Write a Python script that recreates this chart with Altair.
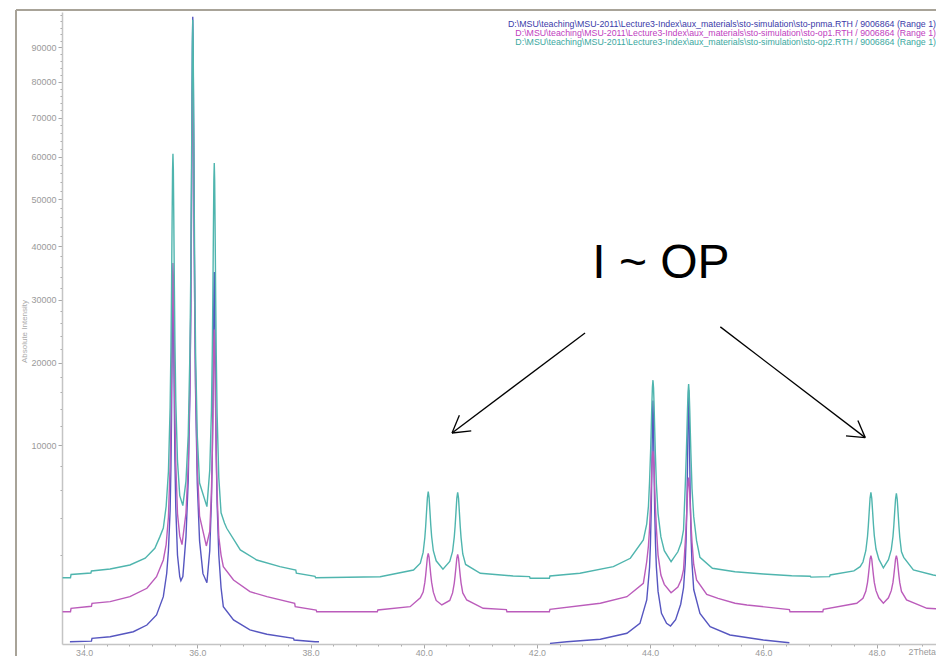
import altair as alt
import pandas as pd

# ---- data (2Theta in degrees, absolute intensity) ----
op2_tt = [33.62, 33.76, 33.77, 34.12, 34.13, 34.46, 34.81, 35.08, 35.25, 35.34, 35.40, 35.45,
          35.49, 35.52, 35.535, 35.545, 35.555, 35.563, 35.57, 35.577, 35.585, 35.595, 35.605, 35.62,
          35.65, 35.69, 35.745, 35.80, 35.84, 35.87, 35.885, 35.895, 35.905, 35.913, 35.92, 35.927,
          35.935, 35.945, 35.955, 35.97, 36.00, 36.04, 36.17, 36.22, 36.25, 36.265, 36.275, 36.285,
          36.293, 36.30, 36.307, 36.315, 36.325, 36.335, 36.35, 36.38, 36.42, 36.48, 36.52, 36.76,
          37.05, 37.46, 37.74, 37.75, 38.08, 38.09, 39.23, 39.82, 39.94, 39.99, 40.02, 40.035,
          40.05, 40.065, 40.08, 40.095, 40.11, 40.125, 40.14, 40.17, 40.22, 40.34, 40.46, 40.51,
          40.54, 40.555, 40.57, 40.585, 40.60, 40.615, 40.63, 40.645, 40.66, 40.69, 40.74, 41.00,
          41.58, 41.87, 41.88, 42.22, 42.23, 42.76, 43.35, 43.65, 43.88, 43.94, 43.97, 43.99,
          44.01, 44.02, 44.03, 44.04, 44.05, 44.06, 44.07, 44.08, 44.09, 44.11, 44.14, 44.19,
          44.25, 44.37, 44.49, 44.55, 44.59, 44.62, 44.64, 44.65, 44.66, 44.67, 44.68, 44.69,
          44.70, 44.71, 44.72, 44.74, 44.77, 44.82, 44.88, 45.10, 45.50, 46.00, 46.50, 46.83,
          46.84, 47.17, 47.18, 47.60, 47.71, 47.76, 47.81, 47.84, 47.855, 47.87, 47.885, 47.90,
          47.915, 47.93, 47.945, 47.96, 47.99, 48.04, 48.12, 48.21, 48.26, 48.29, 48.305, 48.32,
          48.335, 48.35, 48.365, 48.38, 48.395, 48.41, 48.44, 48.48, 48.65, 49.00, 49.19]
op2_I = [1112, 1112, 1222, 1275, 1348, 1423, 1579, 1859, 2318, 2915, 3400, 4800,
         7500, 14160, 22300, 31650, 45350, 56700, 60800, 57000, 45800, 32300, 23000, 15000,
         8500, 5570, 4840, 6710, 11040, 21600, 34900, 50300, 72900, 91600, 98500, 91500,
         72800, 50200, 34800, 21400, 10930, 6550, 4770, 7640, 13750, 21540, 30500, 43660,
         54580, 58500, 54400, 43400, 30200, 21200, 13400, 7000, 4350, 3700, 3387, 2236,
         1785, 1513, 1385, 1266, 1160, 1112, 1146, 1385, 1650, 2120, 2870, 3520,
         4420, 5400, 5870, 5420, 4450, 3560, 2920, 2200, 1750, 1412, 1720, 2170,
         2900, 3520, 4400, 5380, 5820, 5380, 4400, 3500, 2850, 2050, 1600, 1266,
         1170, 1150, 1092, 1092, 1170, 1266, 1513, 1859, 2737, 3650, 4800, 6700,
         9700, 11900, 14440, 16650, 17600, 16600, 14400, 11800, 9600, 6500, 4300, 2900,
         2200, 1713, 2150, 2600, 3300, 6300, 9300, 11400, 13900, 16000, 17100, 16000,
         13800, 11300, 9200, 6100, 4100, 2700, 1900, 1450, 1322, 1240, 1180, 1160,
         1130, 1146, 1205, 1350, 1513, 1700, 2200, 2920, 3560, 4420, 5370, 5820,
         5370, 4450, 3600, 2970, 2280, 1820, 1470, 1800, 2250, 2920, 3550, 4400,
         5300, 5745, 5300, 4380, 3520, 2880, 2150, 1900, 1385, 1205, 1146]

op1_tt = [33.62, 33.76, 33.77, 34.13, 34.14, 34.46, 34.81, 35.11, 35.28, 35.40, 35.45, 35.49,
          35.52, 35.535, 35.545, 35.555, 35.563, 35.57, 35.577, 35.585, 35.595, 35.605, 35.62, 35.65,
          35.69, 35.73, 35.80, 35.84, 35.87, 35.885, 35.895, 35.905, 35.913, 35.92, 35.927, 35.935,
          35.945, 35.955, 35.97, 36.00, 36.04, 36.16, 36.22, 36.25, 36.265, 36.275, 36.285, 36.293,
          36.30, 36.307, 36.315, 36.325, 36.335, 36.35, 36.38, 36.42, 36.46, 36.64, 36.93, 37.23,
          37.72, 37.73, 38.10, 38.11, 39.18, 39.19, 39.76, 39.94, 39.99, 40.02, 40.035, 40.05,
          40.065, 40.08, 40.095, 40.11, 40.125, 40.14, 40.17, 40.22, 40.32, 40.46, 40.51, 40.54,
          40.555, 40.57, 40.585, 40.60, 40.615, 40.63, 40.645, 40.66, 40.69, 40.76, 41.05, 41.46,
          41.47, 42.22, 42.23, 43.12, 43.59, 43.88, 43.94, 43.97, 43.99, 44.01, 44.02, 44.03,
          44.04, 44.05, 44.06, 44.07, 44.08, 44.09, 44.11, 44.14, 44.19, 44.25, 44.37, 44.49,
          44.55, 44.59, 44.62, 44.64, 44.65, 44.66, 44.67, 44.68, 44.69, 44.70, 44.71, 44.72,
          44.74, 44.77, 44.82, 45.00, 45.20, 45.50, 45.71, 46.46, 46.47, 47.05, 47.06, 47.65,
          47.76, 47.81, 47.84, 47.855, 47.87, 47.885, 47.90, 47.915, 47.93, 47.945, 47.96, 47.99,
          48.04, 48.12, 48.21, 48.26, 48.29, 48.305, 48.32, 48.335, 48.35, 48.365, 48.38, 48.395,
          48.41, 48.44, 48.53, 48.89, 49.19]
op1_I = [264, 264, 322, 360, 419, 453, 566, 785, 1146, 1785, 2500, 4060,
         8000, 12970, 18650, 27000, 33900, 36700, 34000, 27200, 18900, 13200, 8300, 4300,
         2940, 2500, 4340, 8050, 17100, 28500, 41550, 60700, 76600, 82800, 76600, 60700,
         41500, 28400, 17000, 7900, 4140, 2430, 3200, 5800, 9160, 13000, 18640, 23300,
         25000, 23200, 18500, 12900, 9000, 5700, 2900, 2000, 1513, 1036, 692, 566,
         419, 352, 290, 264, 264, 292, 352, 540, 680, 960, 1200, 1530,
         1900, 2080, 1900, 1530, 1200, 960, 680, 480, 385, 480, 660, 940,
         1180, 1500, 1860, 2035, 1860, 1500, 1180, 940, 660, 490, 322, 300,
         264, 264, 305, 419, 566, 932, 1720, 2440, 3400, 5050, 6270, 7660,
         8880, 9400, 8850, 7650, 6250, 5050, 3400, 2000, 1200, 900, 666, 820,
         1050, 1400, 2600, 3800, 4700, 5700, 6600, 7000, 6600, 5700, 4700, 3800,
         2600, 1600, 1036, 620, 528, 419, 385, 300, 264, 264, 305, 419,
         530, 700, 955, 1180, 1480, 1820, 1974, 1820, 1480, 1190, 960, 720,
         540, 420, 540, 720, 960, 1190, 1480, 1820, 1974, 1820, 1480, 1180,
         950, 700, 490, 322, 305]

pnma_tt_a = [33.75, 34.13, 34.14, 34.46, 34.87, 35.11, 35.28, 35.40, 35.46, 35.49, 35.52, 35.535,
             35.545, 35.555, 35.563, 35.57, 35.577, 35.585, 35.595, 35.605, 35.62, 35.65, 35.69, 35.71,
             35.745, 35.80, 35.84, 35.87, 35.885, 35.895, 35.905, 35.913, 35.92, 35.927, 35.935, 35.945,
             35.955, 35.97, 36.00, 36.04, 36.10, 36.17, 36.22, 36.25, 36.265, 36.275, 36.285, 36.293,
             36.30, 36.307, 36.315, 36.325, 36.335, 36.35, 36.38, 36.42, 36.46, 36.64, 36.93, 37.23,
             37.70, 37.71, 38.08, 38.15]
pnma_I_a = [1.3, 2, 8.2, 13.5, 38, 91, 213, 566, 1266, 2200, 4500, 8000,
            13000, 21000, 29000, 33000, 29500, 22000, 14000, 8500, 4700, 2000, 1150, 1013,
            1150, 2900, 6800, 16000, 28000, 44000, 68000, 89000, 99500, 89000, 68000, 44000,
            28000, 16000, 6500, 2700, 1250, 950, 2200, 5200, 9000, 14000, 23000, 31000,
            35000, 31000, 23000, 14000, 9000, 5000, 2000, 800, 352, 146, 50, 24,
            8.2, 4, 1.3, 1.3]
pnma_tt_b = [42.23, 42.53, 43.12, 43.59, 43.82, 43.94, 43.99, 44.005, 44.02, 44.03, 44.04, 44.05,
             44.06, 44.07, 44.08, 44.095, 44.11, 44.14, 44.20, 44.29, 44.36, 44.45, 44.54, 44.59,
             44.62, 44.635, 44.65, 44.66, 44.67, 44.68, 44.69, 44.70, 44.71, 44.725, 44.74, 44.77,
             44.88, 45.06, 45.41, 46.00, 46.46]
pnma_I_b = [0.1, 1.3, 5.6, 29, 108, 490, 1500, 2500, 4650, 7500, 12000, 15000,
            12000, 7500, 4650, 2500, 1500, 700, 238, 108, 82, 150, 400, 800,
            1630, 2700, 5050, 8150, 13000, 16300, 13000, 8150, 5050, 2700, 1630, 750,
            238, 76, 20.5, 4, 0.4]

file_labels = [
    "D:\\MSU\\teaching\\MSU-2011\\Lecture3-Index\\aux_materials\\sto-simulation\\sto-pnma.RTH / 9006864 (Range 1)",
    "D:\\MSU\\teaching\\MSU-2011\\Lecture3-Index\\aux_materials\\sto-simulation\\sto-op1.RTH / 9006864 (Range 1)",
    "D:\\MSU\\teaching\\MSU-2011\\Lecture3-Index\\aux_materials\\sto-simulation\\sto-op2.RTH / 9006864 (Range 1)",
]
file_label_colors = ["#3a3aa8", "#c040c0", "#3aa8a0"]
file_label_tt = [49.05, 49.05, 49.05]
file_label_I = [97270, 94370, 91500]

# arrows: start -> tip, plus two head strokes (2Theta, intensity)
arrow_x1 = [42.85, 40.50, 40.50, 45.24, 47.80, 47.80]
arrow_y1 = [24470, 11260, 11260, 25430, 10770, 10770]
arrow_x2 = [40.50, 40.84, 40.63, 47.80, 47.46, 47.67]
arrow_y2 = [11260, 11480, 13220, 10770, 10950, 12620]

note_text = ["I ~ OP"]
note_tt = [44.19]
note_I = [33900]

x_ticks = [round(34.0 + 0.4 * k, 1) for k in range(38)]
y_ticks = list(range(2000, 100001, 2000))

# ---- chart ----
FONT = "Liberation Sans"
GREY = "#9a9a9a"

xscale = alt.Scale(domain=[33.61, 49.05], nice=False, zero=False)
yscale = alt.Scale(type="sqrt", domain=[0, 101000], nice=False)

is_major_x = "abs(datum.value - 2*round(datum.value/2)) < 0.01"
xaxis = alt.Axis(
    values=x_ticks,
    labelExpr=f"{is_major_x} ? format(datum.value, '.1f') : ''",
    tickSize={"condition": {"test": is_major_x, "value": 4}, "value": 2},
    labelFont=FONT, labelFontSize=8.8, labelColor=GREY, labelPadding=0,
    labelOverlap=False, labelFlush=False,
    domainColor="#c4c4c4", domainWidth=1.5, tickColor="#a8a8a8", grid=False,
    title="2Theta", titleX=846, titleY=3, titleAlign="left", titleBaseline="top",
    titleFont=FONT, titleFontSize=8.8, titleFontWeight="normal", titleColor=GREY,
)
is_major_y = "datum.value % 10000 === 0 && datum.value < 95000"
yaxis = alt.Axis(
    values=y_ticks,
    labelExpr=f"{is_major_y} ? format(datum.value, 'd') : ''",
    tickSize={"condition": {"test": is_major_y, "value": 4}, "value": 2},
    labelFont=FONT, labelFontSize=9, labelColor=GREY, labelPadding=2,
    labelOverlap=False,
    domainColor="#c4c4c4", domainWidth=1.5, tickColor="#a8a8a8", grid=False,
    title="Absolute Intensity", titleX=-38, titleY=319, titleAngle=270,
    titleAlign="center", titleBaseline="middle",
    titleFont=FONT, titleFontSize=8, titleFontWeight="normal", titleColor="#aaaaaa",
)


def X(field):
    return alt.X(field, type="quantitative", scale=xscale, axis=xaxis)


def Y(field):
    return alt.Y(field, type="quantitative", scale=yscale, axis=yaxis)


pnma_df = pd.concat([
    pd.DataFrame({"tt": pnma_tt_a, "I": pnma_I_a, "part": "a"}),
    pd.DataFrame({"tt": pnma_tt_b, "I": pnma_I_b, "part": "b"}),
])
op1_df = pd.DataFrame({"tt": op1_tt, "I": op1_I})
op2_df = pd.DataFrame({"tt": op2_tt, "I": op2_I})

pnma = alt.Chart(pnma_df).mark_line(color="#5656c0", strokeWidth=1.4, clip=True).encode(
    x=X("tt"), y=Y("I"), detail="part:N",
)
op1 = alt.Chart(op1_df).mark_line(color="#bb5cbb", strokeWidth=1.4, clip=True).encode(
    x=X("tt"), y=Y("I"),
)
op2 = alt.Chart(op2_df).mark_line(color="#4fb5ae", strokeWidth=1.4, clip=True).encode(
    x=X("tt"), y=Y("I"),
)

arrow_df = pd.DataFrame({"tt": arrow_x1, "I": arrow_y1, "x2": arrow_x2, "y2": arrow_y2})
arrows = alt.Chart(arrow_df).mark_rule(color="black", strokeWidth=1.3).encode(
    x=X("tt"), y=Y("I"), x2="x2:Q", y2="y2:Q",
)

note_df = pd.DataFrame({"t": note_text, "tt": note_tt, "I": note_I})
note = alt.Chart(note_df).mark_text(
    font=FONT, fontSize=48, color="black", align="center", baseline="alphabetic"
).encode(x=X("tt"), y=Y("I"), text="t:N")

lab_df = pd.DataFrame({"t": file_labels, "c": file_label_colors,
                       "tt": file_label_tt, "I": file_label_I})
labels = alt.Chart(lab_df).mark_text(
    font=FONT, fontSize=8.8, align="right", baseline="middle"
).encode(
    x=X("tt"), y=Y("I"), text="t:N",
    color=alt.Color("c:N", scale=None),
)

frame_df = pd.DataFrame({"k": [0]})
frame_left = alt.Chart(frame_df).mark_rule(color="#a8a398", strokeWidth=2).encode(
    x=alt.value(-46), y=alt.value(-2), y2=alt.value(700)
)
frame_top = alt.Chart(frame_df).mark_rule(color="#a8a398", strokeWidth=2).encode(
    x=alt.value(-46), x2=alt.value(900), y=alt.value(-2)
)

chart = alt.layer(
    pnma, op1, op2, arrows, note, labels, frame_left, frame_top
).properties(
    width=874, height=632,
    autosize=alt.AutoSizeParams(type="none"),
    padding={"left": 54, "top": 4, "right": 0, "bottom": 16},
    background="white",
).configure_view(stroke=None)

chart.save("out.html", embed_options={"renderer": "svg", "actions": False})
